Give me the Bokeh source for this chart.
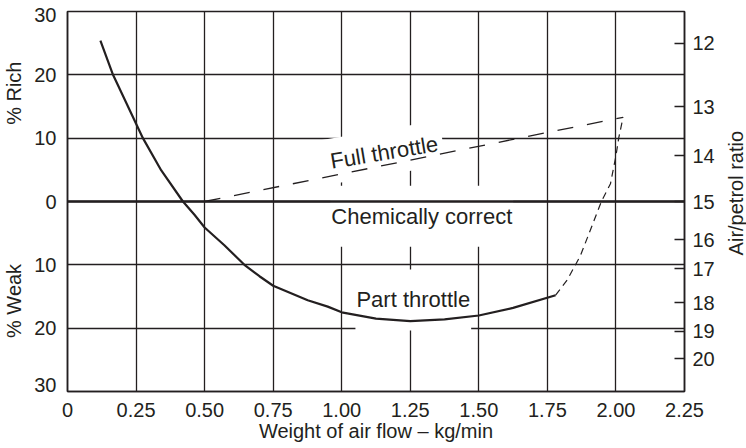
import math
from bokeh.plotting import figure
from bokeh.layouts import row
from bokeh.models import FixedTicker, Label, Span, LinearAxis, Range1d
from bokeh.embed import file_html
from bokeh.resources import INLINE

# ---------------- data ----------------
x_ticks = [0, 0.25, 0.5, 0.75, 1.0, 1.25, 1.5, 1.75, 2.0, 2.25]
x_tick_labels = ["0", "0.25", "0.50", "0.75", "1.00", "1.25", "1.50", "1.75", "2.00", "2.25"]

grid_y = [-20, -10, 0, 10, 20]
y_label_pos = [-28.94, -20, -10, 0, 10, 20, 29.48]
y_tick_labels = ["30", "20", "10", "0", "10", "20", "30"]

afr_pos = [25.0, 15.0, 7.2, 0.0, -6.0, -10.6, -16.0, -20.5, -24.8]
afr_labels = ["12", "13", "14", "15", "16", "17", "18", "19", "20"]

side_title_pos = [17.1, -15.7]
side_titles = ["% Rich", "% Weak"]
right_title = "Air/petrol ratio"
x_title = "Weight of air flow \u2013 kg/min"

# part throttle (solid)
part_x = [0.12, 0.166, 0.215, 0.275, 0.342, 0.421, 0.463, 0.5, 0.572, 0.645, 0.70,
          0.75, 0.876, 0.949, 1.0, 1.125, 1.25, 1.375, 1.5, 1.625, 1.78]
part_y = [25.4, 20.0, 15.5, 10.0, 4.9, 0.0, -2.1, -4.1, -6.9, -10.0, -11.8,
          -13.3, -15.6, -16.6, -17.5, -18.5, -18.9, -18.6, -18.0, -16.8, -14.8]

# part throttle continuation (dashed)
part_dash_x = [1.78, 1.822, 1.870, 1.947, 1.980, 2.000, 2.010, 2.026]
part_dash_y = [-14.8, -12.4, -8.6, 0.0, 2.8, 7.2, 10.0, 13.3]

# full throttle (dashed)
full_x = [0.5, 2.026]
full_y = [0.0, 13.3]

INK = "#231f20"
FONT = "Liberation Sans"

p = figure(width=722, height=448,
           x_range=Range1d(0, 2.25), y_range=Range1d(-30, 30),
           output_backend="svg", toolbar_location=None,
           min_border_left=66, min_border_right=38,
           min_border_top=11, min_border_bottom=57,
           outline_line_color=INK, outline_line_width=1.5,
           background_fill_color="white", border_fill_color="white")

def style_axis(ax, standoff):
    ax.minor_tick_line_color = None
    ax.major_label_standoff = standoff
    ax.major_label_text_font = FONT
    ax.major_label_text_font_size = "20px"
    ax.major_label_text_color = INK
    ax.axis_line_color = INK
    ax.axis_line_width = 1.5

# bottom axis
xa = p.xaxis[0]
xa.ticker = FixedTicker(ticks=x_ticks)
xa.major_label_overrides = {t: l for t, l in zip(x_ticks, x_tick_labels)}
xa.major_tick_line_color = None
style_axis(xa, 5)
xa.axis_label = x_title
xa.axis_label_standoff = 0
xa.axis_label_text_font = FONT
xa.axis_label_text_font_size = "20px"
xa.axis_label_text_font_style = "normal"
xa.axis_label_text_color = INK

# left axis
ya = p.yaxis[0]
ya.ticker = FixedTicker(ticks=y_label_pos)
ya.major_label_overrides = {t: l for t, l in zip(y_label_pos, y_tick_labels)}
ya.major_tick_line_color = None
style_axis(ya, 5)

# left titles (% Rich / % Weak)
lt = LinearAxis(ticker=FixedTicker(ticks=side_title_pos),
                major_label_overrides={t: l for t, l in zip(side_title_pos, side_titles)},
                major_label_orientation="vertical")
style_axis(lt, 0)
lt.axis_line_color = None
lt.major_tick_line_color = None
p.add_layout(lt, "left")

# right axis (air/petrol ratio)
ra = LinearAxis(ticker=FixedTicker(ticks=afr_pos),
                major_label_overrides={t: l for t, l in zip(afr_pos, afr_labels)})
style_axis(ra, 8)
ra.major_tick_in = 10
ra.major_tick_out = 0
ra.major_tick_line_color = INK
ra.major_tick_line_width = 1.3
p.add_layout(ra, "right")

# grid
p.xgrid.ticker = FixedTicker(ticks=x_ticks)
p.ygrid.ticker = FixedTicker(ticks=grid_y)
p.xgrid.grid_line_color = INK
p.xgrid.grid_line_width = 1.3
p.ygrid.grid_line_color = INK
p.ygrid.grid_line_width = 1.3

# chemically correct line
p.add_layout(Span(location=0, dimension="width", line_color=INK, line_width=2.6, level="overlay"))

# curves
p.line(part_x, part_y, line_color=INK, line_width=2.2, level="overlay")
p.line(part_dash_x, part_dash_y, line_color=INK, line_width=1.2, line_dash="7 5", level="overlay")
p.line(full_x, full_y, line_color=INK, line_width=1.3, line_dash="16 14", level="overlay")

def lab(fig, x, y, text, angle=0.0, pad=(1, 18), size="22px", bg="white"):
    fig.add_layout(Label(x=x, y=y, text=text, angle=angle, text_align="center",
                         text_baseline="middle", text_font=FONT, text_font_size=size,
                         text_color=INK, background_fill_color=bg, padding=pad))

lab(p, 1.155, 7.74, "Full throttle", angle=0.166, pad=(5, 10))
lab(p, 1.292, -2.34, "Chemically correct")
lab(p, 1.261, -15.55, "Part throttle")

# narrow strip on the right carrying the right-hand axis title
p2 = figure(width=24, height=448, x_range=Range1d(0, 1), y_range=Range1d(0, 1),
            output_backend="svg", toolbar_location=None, min_border=0,
            outline_line_color=None, background_fill_color="white", border_fill_color="white")
p2.xaxis.visible = False
p2.yaxis.visible = False
p2.xgrid.visible = False
p2.ygrid.visible = False
lab(p2, 0.583, 0.522, right_title, angle=math.pi / 2, pad=0, size="20px", bg=None)

open("out.html", "w").write(file_html(row(p, p2), INLINE))
